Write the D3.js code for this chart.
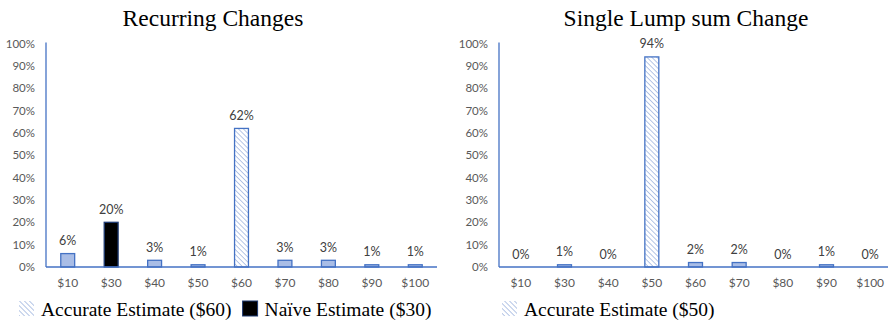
<!DOCTYPE html>
<html>
<head>
<meta charset="utf-8">
<script src="https://cdn.jsdelivr.net/npm/d3@7"></script>
<style>
  html, body { margin: 0; padding: 0; background: #fff; }
  svg { display: block; }
  .serif { font-family: "Liberation Serif", "Times New Roman", Times, Tinos, "DejaVu Serif", serif; }
  .sans { font-family: Lato, "Open Sans", sans-serif; }
</style>
</head>
<body>
<svg id="chart" width="888" height="323"></svg>
<script>
// Share of responses per estimate, two scenarios
const recurringCategories = ["$10", "$30", "$40", "$50", "$60", "$70", "$80", "$90", "$100"];
const recurringValues = [6, 20, 3, 1, 62, 3, 3, 1, 1];
const recurringKinds = ["plain", "naive", "plain", "plain", "accurate", "plain", "plain", "plain", "plain"];

const lumpCategories = ["$10", "$30", "$40", "$50", "$60", "$70", "$80", "$90", "$100"];
const lumpValues = [0, 1, 0, 94, 2, 2, 0, 1, 0];
const lumpKinds = ["plain", "plain", "plain", "accurate", "plain", "plain", "plain", "plain", "plain"];

const yTicks = [0, 10, 20, 30, 40, 50, 60, 70, 80, 90, 100];

const titles = ["Recurring Changes", "Single Lump sum Change"];
const legendRecurring = [["accurate", "Accurate Estimate ($60)"], ["naive", "Naïve Estimate ($30)"]];
const legendLump = [["accurate", "Accurate Estimate ($50)"]];

const svg = d3.select("#chart");
const BLUE = "#4472c4";
const FILL = "#a9bde6";

// diagonal hatch used for the accurate-estimate bars
const defs = svg.append("defs");
const pat = defs.append("pattern")
  .attr("id", "hatch")
  .attr("patternUnits", "userSpaceOnUse")
  .attr("width", 3.5).attr("height", 3.5)
  .attr("patternTransform", "rotate(-45)");
pat.append("rect").attr("width", 3.5).attr("height", 3.5).attr("fill", "#fff");
pat.append("line").attr("x1", 0).attr("y1", 0).attr("x2", 0).attr("y2", 3.5)
  .attr("stroke", "#8fa9da").attr("stroke-width", 1.3);

function panel(opts) {
  const { x0, x1, yTop, yBot, cats, vals, kinds, title, titleX, legend } = opts;
  const g = svg.append("g");
  const x = d3.scaleBand().domain(cats).range([x0, x1]).paddingInner(0.68).paddingOuter(0.34);
  const y = d3.scaleLinear().domain([0, 100]).range([yBot, yTop]);

  // y axis labels
  const yAxis = d3.axisLeft(y).tickValues(yTicks).tickFormat(d => d + "%").tickSize(0).tickPadding(11);
  const ya = g.append("g").attr("transform", `translate(${x0},0)`).call(yAxis);
  ya.select(".domain").remove();
  ya.attr("font-size", null).attr("font-family", null);
  ya.selectAll("text").attr("class", "sans")
    .style("font-size", "11.5px").attr("fill", "#595959");

  // x axis labels
  const xAxis = d3.axisBottom(x).tickSize(0).tickPadding(11);
  const xa = g.append("g").attr("transform", `translate(0,${yBot})`).call(xAxis);
  xa.select(".domain").remove();
  xa.attr("font-size", null).attr("font-family", null);
  xa.selectAll("text").attr("class", "sans")
    .style("font-size", "12px").attr("fill", "#595959");

  // bars
  g.selectAll("rect.bar").data(cats).join("rect")
    .attr("class", "bar")
    .attr("x", d => x(d))
    .attr("width", x.bandwidth())
    .attr("y", (d, i) => y(vals[i]))
    .attr("height", (d, i) => y(0) - y(vals[i]))
    .attr("fill", (d, i) => kinds[i] === "accurate" ? "url(#hatch)" : kinds[i] === "naive" ? "#000" : FILL)
    .attr("stroke", (d, i) => kinds[i] === "naive" ? "#1f3b73" : BLUE)
    .attr("stroke-width", 1.3);

  // value labels
  g.selectAll("text.val").data(cats).join("text")
    .attr("class", "val sans")
    .attr("x", d => x(d) + x.bandwidth() / 2)
    .attr("y", (d, i) => y(vals[i]) - 8.5)
    .attr("text-anchor", "middle")
    .style("font-size", "12.5px").attr("fill", "#404040")
    .text((d, i) => vals[i] + "%");

  // axis lines
  g.append("line").attr("x1", x0).attr("x2", x0).attr("y1", yTop - 1).attr("y2", yBot)
    .attr("stroke", BLUE).attr("stroke-width", 1.3);
  g.append("line").attr("x1", x0).attr("x2", x1).attr("y1", yBot).attr("y2", yBot)
    .attr("stroke", BLUE).attr("stroke-width", 1.3);

  // title
  svg.append("text").attr("class", "serif").attr("x", titleX).attr("y", 26)
    .attr("text-anchor", "middle")
    .style("font-size", "23.5px").attr("fill", "#000")
    .text(title);

  // legend
  let lx = legend.x;
  legend.items.forEach(([kind, label]) => {
    const sq = svg.append("rect").attr("x", lx).attr("y", 301).attr("width", 15).attr("height", 15);
    if (kind === "accurate") sq.attr("fill", "url(#hatch)");
    else sq.attr("fill", "#000").attr("stroke", "#1f3b73").attr("stroke-width", 1);
    const t = svg.append("text").attr("class", "serif").attr("x", lx + 22).attr("y", 316)
      .style("font-size", "19.5px").attr("fill", "#000")
      .text(label);
    lx += 22 + t.node().getComputedTextLength() + 11;
  });
}

panel({
  x0: 46, x1: 437, yTop: 43.5, yBot: 267,
  cats: recurringCategories, vals: recurringValues, kinds: recurringKinds,
  title: titles[0], titleX: 213,
  legend: { x: 19, items: legendRecurring }
});

panel({
  x0: 499, x1: 892, yTop: 43.5, yBot: 267,
  cats: lumpCategories, vals: lumpValues, kinds: lumpKinds,
  title: titles[1], titleX: 686,
  legend: { x: 502, items: legendLump }
});
</script>
</body>
</html>
